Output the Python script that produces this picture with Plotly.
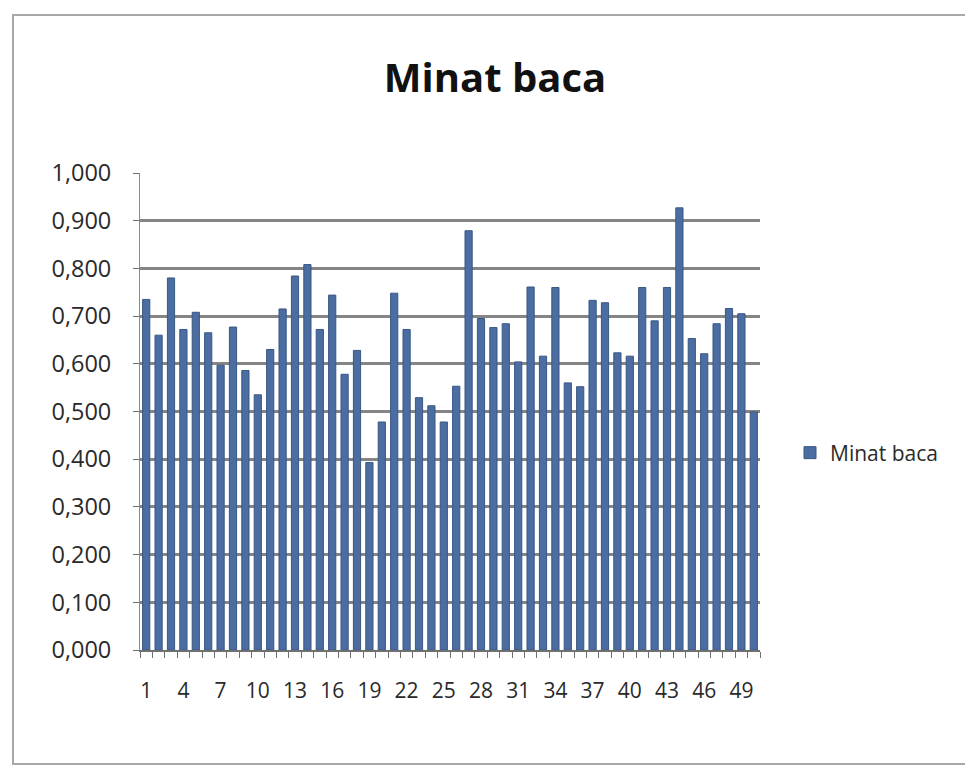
import plotly.graph_objects as go

categories = list(range(1, 51))
values = [0.735, 0.660, 0.780, 0.672, 0.708, 0.665, 0.597, 0.677, 0.586, 0.535,
          0.630, 0.715, 0.784, 0.808, 0.672, 0.744, 0.578, 0.628, 0.393, 0.478,
          0.748, 0.672, 0.529, 0.512, 0.478, 0.553, 0.879, 0.695, 0.676, 0.684,
          0.604, 0.761, 0.616, 0.760, 0.560, 0.552, 0.733, 0.728, 0.623, 0.616,
          0.760, 0.690, 0.760, 0.927, 0.653, 0.621, 0.684, 0.716, 0.705, 0.499]
tick_labels = [str(c) for c in categories if (c - 1) % 3 == 0]
tick_vals = [c for c in categories if (c - 1) % 3 == 0]
y_ticks = [i / 10 for i in range(11)]

font_family = "'Open Sans', sans-serif"

fig = go.Figure()
fig.add_trace(go.Bar(
    x=categories, y=values, name="Minat baca",
    marker=dict(color="#4b6da1", line=dict(color="#3a5784", width=1)),
    showlegend=True,
))

# figure coordinates (page is offset by the 8px body margin)
OFF = 8
W, H = 973, 769
L, R, T, B = 140 - OFF, 760 - OFF, 173 - OFF, 650 - OFF

def px_x(p):
    return (p - OFF - L) / (R - L)

def px_y(p):
    return (B - (p - OFF)) / (B - T)

fig.update_layout(
    width=W, height=H,
    margin=dict(l=L, r=W - R, t=T, b=H - B, pad=0),
    paper_bgcolor="white", plot_bgcolor="white",
    bargap=0.42,
    separators=",.",
    font=dict(family=font_family, color="#2a2a2a", size=22),
    title=dict(text="<b>Minat baca</b>", x=(495 - OFF) / W, xref="container", xanchor="center",
               y=1 - (78 - OFF) / H, yref="container", yanchor="middle",
               font=dict(size=40, family=font_family, color="#111111")),
    legend=dict(x=px_x(790), y=px_y(453), xanchor="left", yanchor="middle",
                font=dict(size=21, family=font_family, color="#2a2a2a"),
                bgcolor="rgba(0,0,0,0)", itemwidth=30),
    xaxis=dict(range=[0.5, 50.5], tickmode="array", tickvals=tick_vals, ticktext=tick_labels,
               ticks="", showgrid=False, zeroline=False,
               showline=True, linecolor="#707070", linewidth=2,
               ticklabelstandoff=21, tickfont=dict(size=21),
               minor=dict(tickmode="linear", tick0=0.5, dtick=1, ticks="outside",
                          ticklen=6, tickcolor="#707070", tickwidth=1, showgrid=False)),
    yaxis=dict(range=[0, 1], tickmode="array", tickvals=y_ticks, tickformat=".3f",
               ticks="outside", ticklen=6, tickcolor="#707070", tickwidth=1,
               showgrid=True, gridcolor="#858585", gridwidth=2.5,
               zeroline=False, showline=True, linecolor="#8a8a8a", linewidth=1,
               ticklabelstandoff=17, tickfont=dict(size=23.5)),
    shapes=[dict(type="rect", xref="paper", yref="paper",
                 x0=px_x(13), x1=px_x(969), y0=px_y(764), y1=px_y(15),
                 line=dict(color="#a8a8a8", width=2), layer="below")],
)

fig.write_html("out.html")
